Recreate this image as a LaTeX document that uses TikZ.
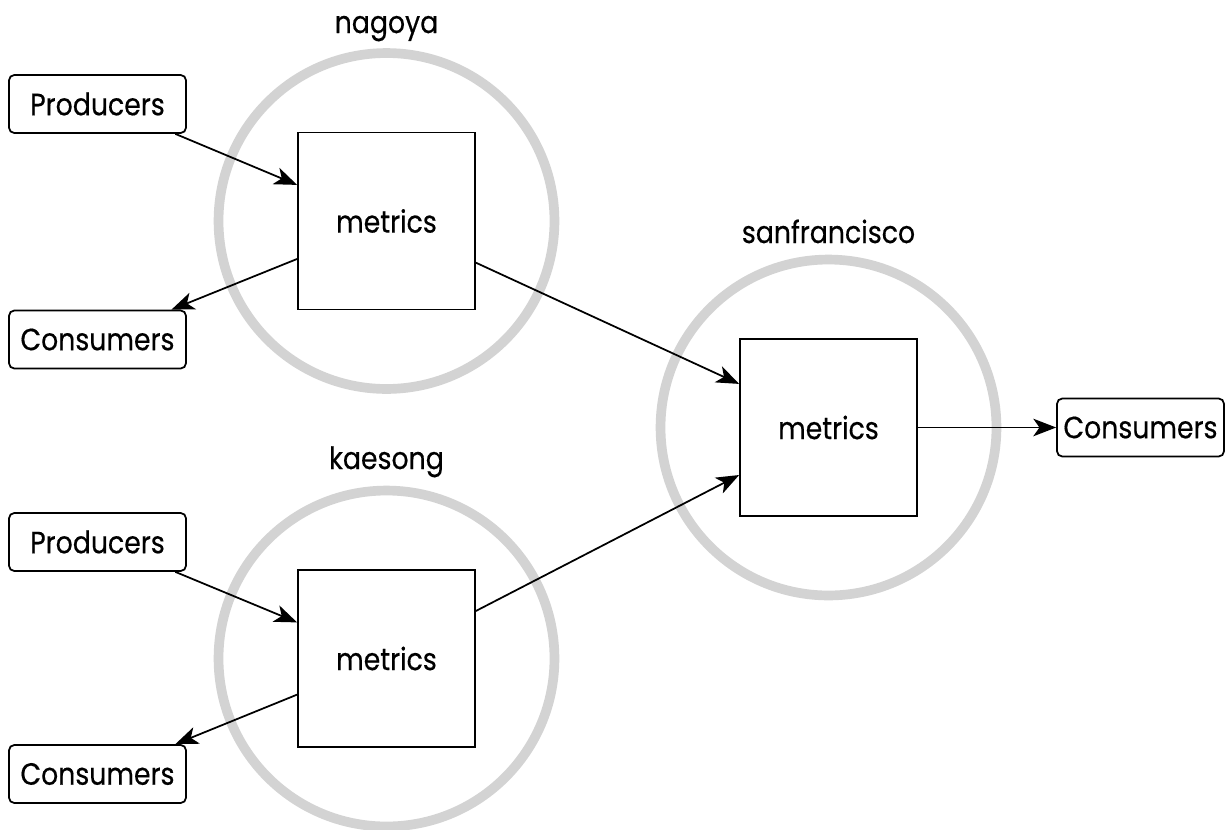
\documentclass[tikz,border=0pt]{standalone}
\usepackage{fontspec}
\setmainfont{Poppins}[FakeStretch=0.87, FakeBold=0.4]
\usepackage{xcolor}
\usetikzlibrary{arrows.meta, positioning}
\definecolor{zonegray}{HTML}{D3D3D3}

\begin{document}
\begin{tikzpicture}[x=0.02cm, y=-0.02cm, line width=1pt,
    flow/.style={-{Stealth[length=13pt, width=10pt, inset=3.5pt]}},
    zone/.style={circle, draw=zonegray, line width=5.5pt, minimum size=6.72cm, inner sep=0pt},
    store/.style={draw, fill=white, minimum width=3.54cm, minimum height=3.54cm, inner sep=0pt, font=\fontsize{17.5}{20}\selectfont},
    client/.style={draw, fill=white, rounded corners=3pt, minimum width=3.54cm, minimum height=1.16cm, inner sep=0pt, font=\fontsize{17.5}{20}\selectfont},
    site/.style={anchor=base, font=\fontsize{17.5}{20}\selectfont}]
    \useasboundingbox (0,0) rectangle (1228,829);
    % nagoya
    \node[zone] (circN) at (386.5,221) {};
    \node[site] (labN) at (386.5,33) {nagoya};
    \node[store] (sqN) at (386.5,221) {metrics};
    \node[client] (prodN) at (97.5,104) {Producers};
    \node[client] (consN) at (97.5,339.5) {Consumers};
    \draw[flow] (prodN.-21) -- (sqN.158);
    \draw[flow] (sqN.-157) -- (consN.22);
    % kaesong
    \node[zone] (circK) at (386.5,658.5) {};
    \node[site] (labK) at (386.5,469) {kaesong};
    \node[store] (sqK) at (386.5,658.5) {metrics};
    \node[client] (prodK) at (97.5,542) {Producers};
    \node[client] (consK) at (97.5,774) {Consumers};
    \draw[flow] (prodK.-21) -- (sqK.158);
    \draw[flow] (sqK.-158) -- (consK.21);
    % sanfrancisco
    \node[zone] (circSF) at (828.5,427.5) {};
    \node[site] (labSF) at (828.5,243) {sanfrancisco};
    \node[store] (sqSF) at (828.5,427.5) {metrics};
    \node[client, minimum width=3.34cm] (consSF) at (1140.5,427.5) {Consumers};
    \draw[flow] (sqN.-25) -- (sqSF.154);
    \draw[flow] (sqK.28) -- (sqSF.-152);
    \draw[flow] (sqSF.east) -- (consSF.west);
\end{tikzpicture}
\end{document}
